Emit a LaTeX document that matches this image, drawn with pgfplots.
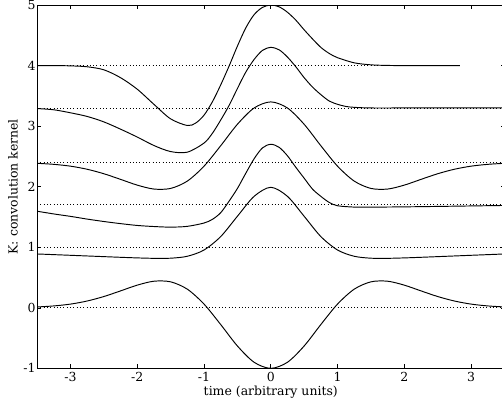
\documentclass[border=0pt]{standalone}
\usepackage{fontspec}
\setmainfont{DejaVu Serif}
\usepackage{pgfplots}
\pgfplotsset{compat=1.18}
\usetikzlibrary{calc}
\begin{document}
\begin{tikzpicture}
\begin{axis}[name=ax, scale only axis, width=467bp, height=363bp,
 xmin=-3.5, xmax=3.5, ymin=-1, ymax=5,
 xtick={-3,-2,-1,0,1,2,3}, xticklabels={-3,-2,-1,0,1,2,3},
 ytick={-1,0,1,2,3,4,5}, yticklabels={-1,0,1,2,3,4,5},
 tick align=inside, tick pos=both, major tick length=4bp,
 tick style={black, line width=0.6pt},
 axis line style={line width=1pt},
 font=\fontsize{12.5}{14}\selectfont,
 xticklabel style={anchor=base, yshift=-12.7bp},
 yticklabel style={xshift=2bp},
 xlabel={time (arbitrary units)}, ylabel={K: convolution kernel},
 xlabel style={at={(axis description cs:0.5,-0.0744)}, anchor=base},
 ylabel style={at={(axis description cs:-0.0514,0.5)}, anchor=center},
 clip=true,
 dotline/.style={black, line width=0.9bp, dash pattern=on 0.9bp off 2.4bp},
 kern/.style={black, line width=0.95bp, smooth},
]
% baselines
\addplot[dotline] coordinates {(-3.5,0) (3.5,0)};
\addplot[dotline] coordinates {(-3.5,1) (3.5,1)};
\addplot[dotline] coordinates {(-3.5,1.7) (3.5,1.7)};
\addplot[dotline] coordinates {(-3.5,2.4) (3.5,2.4)};
\addplot[dotline] coordinates {(-3.5,3.3) (3.5,3.3)};
\addplot[dotline] coordinates {(-3.5,4.0) (2.83,4.0)};
% C0
\addplot[kern] coordinates {(-3.5,0.014)(-3.25,0.031)(-3,0.061)(-2.75,0.112)(-2.5,0.186)(-2.25,0.279)(-2,0.374)(-1.75,0.439)(-1.5,0.429)(-1.25,0.308)(-1,0.062)(-0.75,-0.276)(-0.5,-0.630)(-0.25,-0.899)(0,-1)(0.25,-0.899)(0.5,-0.630)(0.75,-0.276)(1,0.062)(1.25,0.308)(1.5,0.429)(1.75,0.439)(2,0.374)(2.25,0.279)(2.5,0.186)(2.75,0.112)(3,0.061)(3.25,0.031)(3.5,0.014)};
% C1
\addplot[kern] coordinates {(-3.5,0.889)(-3.25,0.878)(-3,0.867)(-2.75,0.856)(-2.5,0.845)(-2.25,0.834)(-2,0.824)(-1.75,0.817)(-1.5,0.819)(-1.25,0.851)(-1,0.954)(-0.75,1.176)(-0.5,1.511)(-0.25,1.840)(0,1.99)(0.25,1.840)(0.5,1.511)(0.75,1.176)(1,0.954)(1.25,0.851)(1.5,0.819)(1.75,0.817)(2,0.824)(2.25,0.834)(2.5,0.845)(2.75,0.856)(3,0.867)(3.25,0.878)(3.5,0.889)};
% C2
\addplot[kern] coordinates {(-3.5,1.595)(-3.25,1.55)(-3,1.51)(-2.75,1.465)(-2.5,1.425)(-2.25,1.39)(-2,1.36)(-1.75,1.342)(-1.5,1.332)(-1.25,1.345)(-1,1.40)(-0.875,1.46)(-0.75,1.57)(-0.625,1.76)(-0.5,1.97)(-0.375,2.22)(-0.25,2.46)(-0.125,2.64)(0,2.70)(0.125,2.65)(0.25,2.51)(0.375,2.32)(0.5,2.14)(0.625,1.96)(0.75,1.84)(0.875,1.74)(1.0,1.685)(1.25,1.663)(1.5,1.662)(2,1.667)(2.5,1.674)(3,1.682)(3.5,1.69)};
% C3
\addplot[kern] coordinates {(-3.5,2.386)(-3.25,2.369)(-3,2.339)(-2.75,2.288)(-2.5,2.214)(-2.25,2.121)(-2,2.026)(-1.75,1.961)(-1.5,1.971)(-1.25,2.092)(-1,2.338)(-0.75,2.676)(-0.5,3.030)(-0.25,3.299)(0,3.4)(0.25,3.299)(0.5,3.030)(0.75,2.676)(1,2.338)(1.25,2.092)(1.5,1.971)(1.75,1.961)(2,2.026)(2.25,2.121)(2.5,2.214)(2.75,2.288)(3,2.339)(3.25,2.369)(3.5,2.386)};
% C4
\addplot[kern] coordinates {(-3.5,3.29)(-3.25,3.27)(-3,3.22)(-2.75,3.16)(-2.5,3.07)(-2.25,2.95)(-2,2.82)(-1.75,2.68)(-1.5,2.58)(-1.25,2.57)(-1,2.72)(-0.875,2.88)(-0.75,3.10)(-0.625,3.34)(-0.5,3.62)(-0.375,3.89)(-0.25,4.10)(-0.125,4.25)(0,4.30)(0.125,4.26)(0.25,4.14)(0.375,3.98)(0.5,3.80)(0.625,3.645)(0.75,3.52)(0.875,3.415)(1,3.36)(1.125,3.325)(1.25,3.31)(1.5,3.30)(2,3.30)(2.5,3.30)(3,3.30)(3.5,3.30)};
% C5
\addplot[kern] coordinates {(-3.5,4.0)(-3.25,4.0)(-3,3.995)(-2.75,3.98)(-2.5,3.93)(-2.25,3.80)(-2,3.61)(-1.75,3.36)(-1.5,3.12)(-1.25,3.01)(-1.125,3.05)(-1,3.18)(-0.875,3.40)(-0.75,3.68)(-0.625,3.99)(-0.5,4.32)(-0.375,4.62)(-0.25,4.84)(-0.125,4.96)(0,5.0)(0.125,4.97)(0.25,4.88)(0.375,4.75)(0.5,4.59)(0.625,4.44)(0.75,4.30)(0.875,4.20)(1,4.13)(1.25,4.045)(1.5,4.012)(1.75,4.002)(2,4.0)(2.83,4.0)};
\end{axis}
\pgfresetboundingbox
\path[use as bounding box] ($(ax.south west)+(-37bp,-39bp)$) rectangle ($(ax.north east)+(-2.5bp,5bp)$);
\end{tikzpicture}
\end{document}
